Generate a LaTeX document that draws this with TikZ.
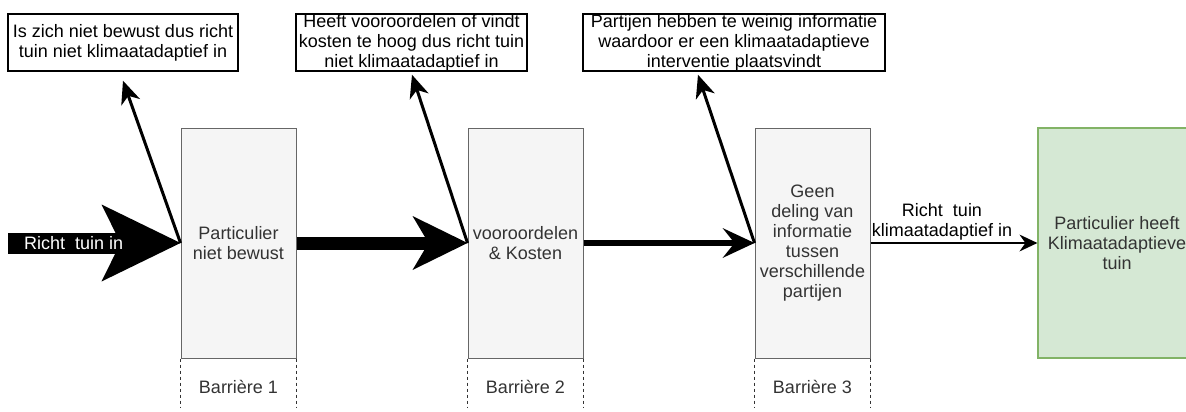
\documentclass[tikz,border=0pt]{standalone}
\usepackage{fontspec}
\setmainfont{Liberation Sans}
\usetikzlibrary{arrows.meta,calc}
\definecolor{gfill}{HTML}{F5F5F5}
\definecolor{gline}{HTML}{666666}
\definecolor{gtext}{HTML}{333333}
\definecolor{grfill}{HTML}{D5E8D4}
\definecolor{grline}{HTML}{82B366}
\begin{document}
\begin{tikzpicture}[x=1pt,y=-1pt,
  font=\fontsize{18}{20}\selectfont,
  barbox/.style={draw=gline, fill=gfill, text=gtext, line width=1pt,
    minimum width=115pt, minimum height=230pt, align=center, inner sep=0pt},
  goalbox/.style={draw=grline, fill=grfill, text=gtext, line width=1.2pt,
    minimum width=158pt, minimum height=230pt, align=center, inner sep=0pt},
  topbox/.style={draw=black, fill=white, text=black, line width=1.5pt,
    minimum height=57pt, align=center, inner sep=0pt},
  barlabel/.style={text=gtext, inner sep=0pt},
  sepline/.style={draw=gtext, line width=1.4pt, dash pattern=on 3pt off 3pt},
  diag/.style={line width=3pt, -{Stealth[length=23pt,width=20pt,inset=7pt,line width=0pt]}},
]
\useasboundingbox (0,0) rectangle (1186,412);

% barrier boxes
\node[barbox] (b1) at (238.5,243) {Particulier\\niet bewust};
\node[barbox] (b2) at (525.5,243) {vooroordelen\\\& Kosten};
\node[barbox] (b3) at (812.5,243) {Geen\\deling van\\informatie\\tussen\\verschillende\\partijen};
\node[goalbox] (g) at (1117,243) {Particulier heeft\\Klimaatadaptieve\\tuin};

% top boxes
\node[topbox, minimum width=230pt] (t1) at (123,42.5) {Is zich niet bewust dus richt\\tuin niet klimaatadaptief in};
\node[topbox, minimum width=231pt] (t2) at (411.5,42.5) {Heeft vooroordelen of vindt\\kosten te hoog dus richt tuin\\niet klimaatadaptief in};
\node[topbox, minimum width=302pt] (t3) at (734,42.5) {Partijen hebben te weinig informatie\\waardoor er een klimaatadaptieve\\interventie plaatsvindt};

% barrier labels and separators
\node[barlabel] (l1) at (238.5,387) {Barrière 1};
\node[barlabel] (l2) at (525.5,387) {Barrière 2};
\node[barlabel] (l3) at (812.5,387) {Barrière 3};
\foreach \b in {b1,b2,b3}{
  \draw[sepline] (\b.south west) -- ++(0,49);
  \draw[sepline] (\b.south east) -- ++(0,49);
}

% main flow arrows
\coordinate (start) at (8,243);
\draw[line width=21pt, -{Stealth[length=79pt,width=77pt,inset=19pt,line width=0pt]}]
  (start) -- (b1.west) node[pos=0.38, text=white] {Richt\ \ tuin in};
\draw[line width=13pt, -{Stealth[length=55pt,width=54pt,inset=16pt,line width=0pt]}]
  (b1.east) -- (b2.west);
\draw[line width=6pt, -{Stealth[length=32pt,width=30pt,inset=12pt,line width=0pt]}]
  (b2.east) -- (b3.west);
\draw[line width=2pt, -{Stealth[length=18pt,width=17pt,inset=6pt,line width=0pt]}]
  (b3.east) -- (g.west);
\node[text=black, align=center, inner sep=0pt] (lab4) at (942,222) {Richt\ \ tuin\\klimaatadaptief in};

% diagonal arrows to consequences
\draw[diag] (b1.west) -- ($(t1.south)+(0,9)$);
\draw[diag] (b2.west) -- ($(t2.south)+(0.5,3)$);
\draw[diag] (b3.west) -- ($(t3.south)+(-36,3)$);
\end{tikzpicture}
\end{document}
